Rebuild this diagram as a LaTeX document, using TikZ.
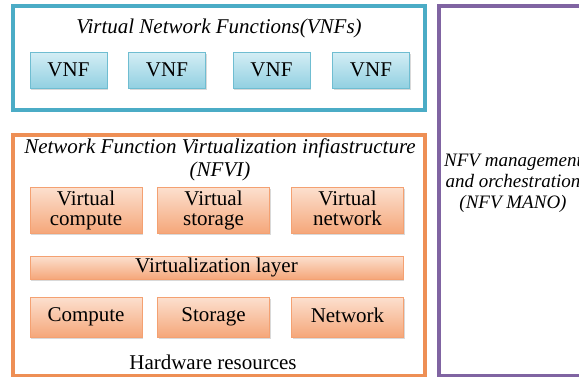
\documentclass[tikz,border=0pt]{standalone}
\usepackage{fontspec}
\setmainfont{Liberation Serif}
\usetikzlibrary{shadows}
\definecolor{tealb}{HTML}{4BACC6}
\definecolor{purpb}{HTML}{8064A2}
\definecolor{orgb}{HTML}{EE8F55}
\definecolor{bluetop}{HTML}{D4EEF5}
\definecolor{bluebot}{HTML}{92D0E1}
\definecolor{orgtop}{HTML}{FCE0CF}
\definecolor{orgbot}{HTML}{F5A77A}
\definecolor{orgline}{HTML}{F4A172}
\tikzset{
  outerbox/.style={line width=3.5pt},
  vnfbox/.style={draw=tealb!80, line width=0.8pt, top color=bluetop, bottom color=bluebot,
    minimum width=77pt, minimum height=36pt, inner sep=0pt,
    drop shadow={opacity=0.3, shadow xshift=1pt, shadow yshift=-1.5pt},
    font=\fontsize{21}{20}\selectfont},
  resbox/.style={draw=orgline, line width=0.8pt, top color=orgtop, bottom color=orgbot,
    minimum width=112pt, inner sep=0pt, align=center,
    drop shadow={opacity=0.3, shadow xshift=1pt, shadow yshift=-1.5pt},
    font=\fontsize{21}{20}\selectfont},
  lbl/.style={inner sep=0pt, align=center, font=\fontsize{21}{23}\selectfont},
}
\begin{document}
\begin{tikzpicture}[x=1pt,y=-1pt]
\useasboundingbox (0,0) rectangle (579,378);
\clip (0,0) rectangle (579,378);
% outer boxes
\draw[outerbox, draw=tealb] (13,6) rectangle (425,110);
\draw[outerbox, draw=orgb] (13,135) rectangle (425,375.5);
\draw[outerbox, draw=purpb] (439,6) rectangle (620,375.5);
% VNF layer
\node[lbl, font=\fontsize{21}{23}\selectfont\itshape] (vnftitle) at (219,28) {Virtual Network Functions(VNFs)};
\node[vnfbox] (vnf1) at (68.5,70) {VNF};
\node[vnfbox] (vnf2) at (167,70) {VNF};
\node[vnfbox] (vnf3) at (271.5,70) {VNF};
\node[vnfbox] (vnf4) at (371,70) {VNF};
% NFVI
\node[lbl, font=\fontsize{21}{23}\selectfont\itshape] (nfvititle) at (220,160) {Network Function Virtualization infiastructure\\(NFVI)};
\node[resbox, minimum height=46pt] (vcomp) at (86,210) {Virtual\\compute};
\node[resbox, minimum height=46pt] (vstor) at (213.5,210) {Virtual\\storage};
\node[resbox, minimum height=46pt] (vnet) at (347.5,210) {Virtual\\network\vphantom{p}};
\node[resbox, minimum width=373pt, minimum height=23pt] (vlayer) at (216.5,267.5) {Virtualization layer};
\node[resbox, minimum height=40pt] (comp) at (86,317) {Compute};
\node[resbox, minimum height=40pt] (stor) at (213.5,317) {Storage};
\node[resbox, minimum height=40pt] (net) at (347.5,317) {Network\vphantom{p}};
\node[lbl] (hw) at (213,362) {Hardware resources};
% MANO
\node[lbl, font=\fontsize{19}{21}\selectfont\itshape] (mano) at (513,183) {NFV management\\and orchestration\\(NFV MANO)};
\end{tikzpicture}
\end{document}
